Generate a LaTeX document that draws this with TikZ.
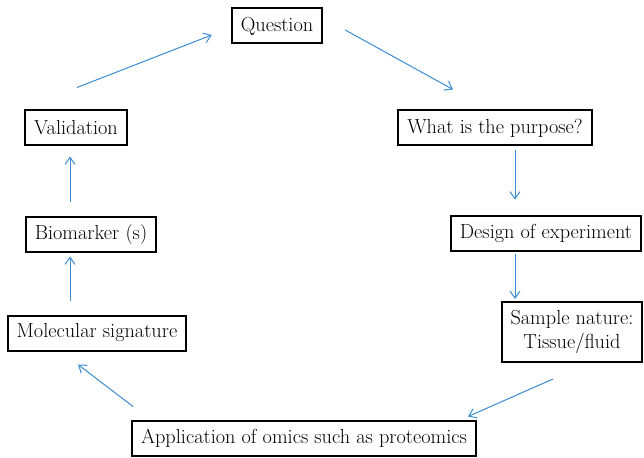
\documentclass[tikz,border=0pt]{standalone}
\usetikzlibrary{arrows.meta,calc}
\definecolor{flowblue}{RGB}{60,140,210}
\begin{document}
\begin{tikzpicture}[x=1pt,y=-1pt,
  stage/.style={draw=black,line width=2pt,inner xsep=9pt,minimum height=35pt,
    font=\fontsize{20.3}{24}\selectfont,align=center},
  flow/.style={draw=flowblue,line width=1pt,-{Straight Barb[length=7pt,width=10pt]}}]
  \useasboundingbox (0,0) rectangle (644,457);
  % stages of the workflow, clockwise from the top
  \node[stage] (question) at (277,26) {Question};
  \node[stage] (purpose) at (495,128) {What is the purpose?};
  \node[stage] (design) at (546,233) {Design of experiment};
  \node[stage,minimum height=60pt] (sample) at (572,332) {Sample nature:\\Tissue/fluid};
  \node[stage] (omics) at (304,438) {Application of omics such as proteomics};
  \node[stage] (signature) at (97,333) {Molecular signature};
  \node[stage] (biomarker) at (91,234) {Biomarker (s)};
  \node[stage] (validation) at (76,128) {Validation};
  % connecting arrows
  \draw[flow] ($(validation.north)+(1,-22)$) -- ($(question.west)+(-19,9)$);
  \draw[flow] ($(question.east)+(22,4)$) -- ($(purpose.north)+(-42,-20)$);
  \draw[flow] ($(purpose.south)+(20,4)$) -- ($(design.north)+(-31,-15)$);
  \draw[flow] ($(design.south)+(-31,2)$) -- ($(sample.north)+(-57,-2)$);
  \draw[flow] ($(sample.south)+(-19,16)$) -- ($(omics.north)+(164,-3)$);
  \draw[flow] ($(omics.north)+(-171,-13)$) -- ($(signature.south)+(-19,13)$);
  \draw[flow] ($(signature.north)+(-27,-14)$) -- ($(biomarker.south)+(-21,4)$);
  \draw[flow] ($(biomarker.north)+(-21,-14)$) -- ($(validation.south)+(-6,10)$);
\end{tikzpicture}
\end{document}
